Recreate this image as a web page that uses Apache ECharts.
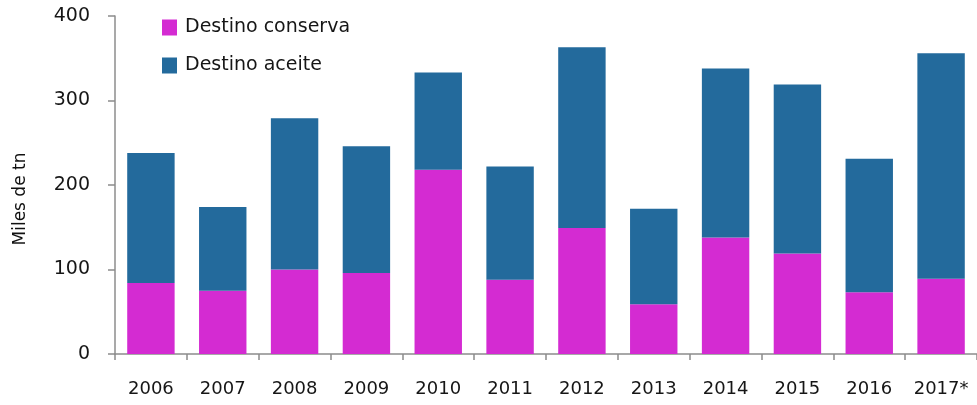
<!DOCTYPE html>
<html>
<head>
<meta charset="utf-8">
<script src="https://cdn.jsdelivr.net/npm/echarts@6/dist/echarts.min.js"></script>
<style>
  html, body { margin: 0; padding: 0; background: #fff; }
  #chart { width: 977px; height: 405px; }
</style>
</head>
<body>
<div id="chart"></div>
<script>
// Destino de la producción (miles de toneladas)
const years = ['2006', '2007', '2008', '2009', '2010', '2011', '2012', '2013', '2014', '2015', '2016', '2017*'];
const conserva = [84, 75, 100, 96, 218, 88, 149, 59, 138, 119, 73, 89];
const aceite = [154, 99, 179, 150, 115, 134, 214, 113, 200, 200, 158, 267];
const yTicks = [0, 100, 200, 300, 400];

const PINK = '#d42bd2';
const BLUE = '#236a9c';
const TEXT = '#161616';
const FONT = '"DejaVu Sans", "Liberation Sans", sans-serif';

const chart = echarts.init(document.getElementById('chart'), null, { renderer: 'canvas' });

chart.setOption({
  animation: false,
  textStyle: { fontFamily: FONT },
  grid: { left: 115, right: -5, top: 16, bottom: 51, containLabel: false },
  legend: {
    orient: 'vertical',
    left: 157,
    top: 13,
    itemWidth: 15,
    itemHeight: 16,
    itemGap: 19,
    icon: 'rect',
    textStyle: { fontSize: 19, color: TEXT, fontFamily: FONT, padding: [0, 0, 0, 3] },
    data: ['Destino conserva', 'Destino aceite']
  },
  xAxis: {
    type: 'category',
    data: years,
    axisLine: { lineStyle: { color: '#8c8c8c', width: 1.5 } },
    axisTick: { show: true, length: 6, lineStyle: { color: '#8c8c8c', width: 1.5 } },
    axisLabel: { color: TEXT, fontSize: 18, margin: 26, interval: 0 }
  },
  yAxis: {
    type: 'value',
    min: yTicks[0],
    max: yTicks[yTicks.length - 1],
    interval: 100,
    splitLine: { show: false },
    axisLine: { show: true, lineStyle: { color: '#8c8c8c', width: 1.5 } },
    axisTick: { show: true, length: 7, lineStyle: { color: '#8c8c8c', width: 1.5 } },
    axisLabel: { color: TEXT, fontSize: 19, margin: 25, padding: [6, 0, 0, 0] }
  },
  graphic: [
    {
      type: 'text',
      x: 12,
      y: 199,
      rotation: Math.PI / 2,
      style: {
        text: 'Miles de tn',
        font: '17px ' + FONT,
        fill: '#111',
        align: 'center',
        verticalAlign: 'top'
      }
    }
  ],
  series: [
    {
      name: 'Destino conserva',
      type: 'bar',
      stack: 'total',
      data: conserva,
      barCategoryGap: '34%',
      itemStyle: { color: PINK }
    },
    {
      name: 'Destino aceite',
      type: 'bar',
      stack: 'total',
      data: aceite,
      itemStyle: { color: BLUE }
    }
  ]
});
</script>
</body>
</html>
